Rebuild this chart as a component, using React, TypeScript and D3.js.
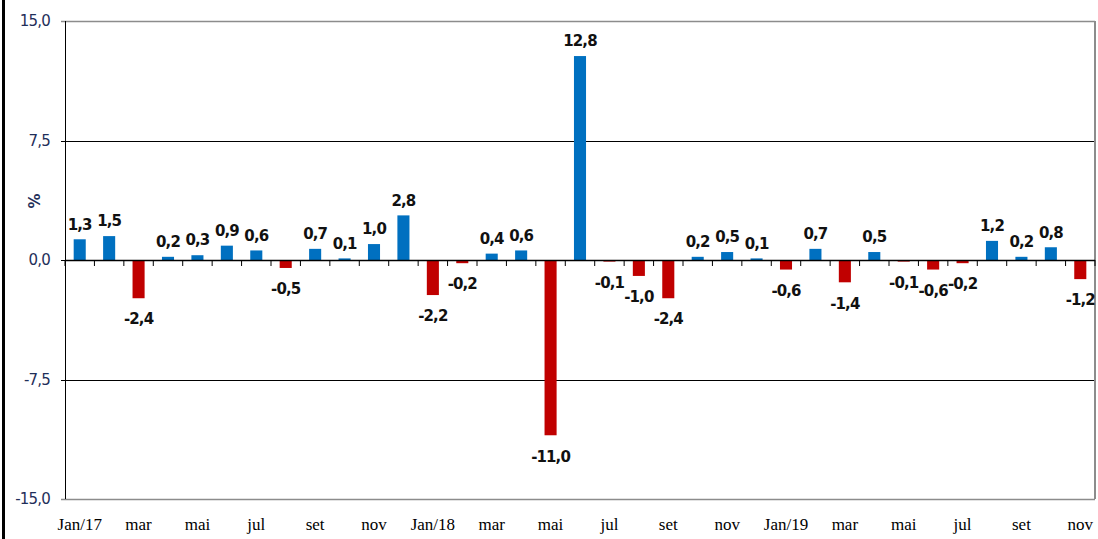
import React, { useEffect, useRef } from "react";
import * as d3 from "d3";

// variação mensal (%), jan/17 a nov/19
const months = [
  "Jan/17", "fev", "mar", "abr", "mai", "jun", "jul", "ago", "set", "out", "nov", "dez",
  "Jan/18", "fev18", "mar18", "abr18", "mai18", "jun18", "jul18", "ago18", "set18", "out18", "nov18", "dez18",
  "Jan/19", "fev19", "mar19", "abr19", "mai19", "jun19", "jul19", "ago19", "set19", "out19", "nov19",
];
const values = [
  1.3, 1.5, -2.4, 0.2, 0.3, 0.9, 0.6, -0.5, 0.7, 0.1, 1.0, 2.8,
  -2.2, -0.2, 0.4, 0.6, -11.0, 12.8, -0.1, -1.0, -2.4, 0.2, 0.5, 0.1,
  -0.6, 0.7, -1.4, 0.5, -0.1, -0.6, -0.2, 1.2, 0.2, 0.8, -1.2,
];
const tickLabels = [
  "Jan/17", "mar", "mai", "jul", "set", "nov",
  "Jan/18", "mar", "mai", "jul", "set", "nov",
  "Jan/19", "mar", "mai", "jul", "set", "nov",
];
const yTicks = [-15, -7.5, 0, 7.5, 15];

const fmt = (v: number) => v.toFixed(1).replace(".", ",");

const App = () => {
  const svgRef = useRef<SVGSVGElement | null>(null);

  useEffect(() => {
    const width = 1098;
    const height = 539;
    const left = 65;
    const right = 1095;
    const top = 21;
    const bottom = 499;

    const svg = d3.select(svgRef.current);
    svg.selectAll("*").remove();

    const x = d3.scaleBand<string>().domain(months).range([left, right]).paddingInner(0.59).paddingOuter(0.295);
    const y = d3.scaleLinear().domain([-15, 15]).range([bottom, top]);

    svg.append("rect").attr("width", width).attr("height", height).attr("fill", "#fff");
    // borda externa à esquerda
    svg.append("rect").attr("x", 2).attr("y", 0).attr("width", 3).attr("height", height).attr("fill", "#000");

    // grade
    svg
      .selectAll(".grid")
      .data(yTicks)
      .join("line")
      .attr("x1", left - 4)
      .attr("x2", right)
      .attr("y1", (d) => Math.round(y(d)) + 0.5)
      .attr("y2", (d) => Math.round(y(d)) + 0.5)
      .attr("stroke", (d) => (Math.abs(d) === 15 ? "#8c8c8c" : "#000"))
      .attr("stroke-width", (d) => (Math.abs(d) === 15 ? 1.6 : 1));

    // borda direita
    svg
      .append("line")
      .attr("x1", right).attr("x2", right)
      .attr("y1", top).attr("y2", bottom)
      .attr("stroke", "#8c8c8c").attr("stroke-width", 2);

    // eixo y
    svg
      .append("line")
      .attr("x1", left + 0.5).attr("x2", left + 0.5)
      .attr("y1", top).attr("y2", bottom)
      .attr("stroke", "#000");

    svg
      .selectAll(".ylab")
      .data(yTicks)
      .join("text")
      .attr("x", 50)
      .attr("y", (d) => y(d))
      .attr("dy", "0.35em")
      .attr("text-anchor", "end")
      .attr("font-family", "DejaVu Sans, sans-serif")
      .attr("font-size", 15)
      .attr("letter-spacing", -0.8)
      .attr("fill", "#1f2f5a")
      .text((d) => fmt(d));

    svg
      .append("text")
      .attr("transform", "translate(40,201) rotate(-90)")
      .attr("text-anchor", "middle")
      .attr("font-family", "DejaVu Sans, sans-serif")
      .attr("font-size", 15)
      .attr("font-weight", "bold")
      .attr("fill", "#1f2f5a")
      .text("%");

    // barras
    svg
      .selectAll(".bar")
      .data(values)
      .join("rect")
      .attr("x", (d, i) => x(months[i])!)
      .attr("width", x.bandwidth())
      .attr("y", (d) => y(Math.max(0, d)))
      .attr("height", (d) => Math.abs(y(d) - y(0)))
      .attr("fill", (d) => (d >= 0 ? "#0070c0" : "#c00000"));

    // linha do zero e marcas
    svg
      .append("line")
      .attr("x1", left).attr("x2", right)
      .attr("y1", y(0) + 0.5).attr("y2", y(0) + 0.5)
      .attr("stroke", "#000").attr("stroke-width", 1.3);

    const step = x.step();
    svg
      .selectAll(".xtick")
      .data(d3.range(months.length + 1))
      .join("line")
      .attr("x1", (i) => left + i * step)
      .attr("x2", (i) => left + i * step)
      .attr("y1", y(0))
      .attr("y2", y(0) + 6)
      .attr("stroke", "#000");

    // rótulos de dados
    svg
      .selectAll(".dlab")
      .data(values)
      .join("text")
      .attr("x", (d, i) => x(months[i])! + x.bandwidth() / 2)
      .attr("y", (d) => (d >= 0 ? y(d) - 15 : y(d) + 21))
      .attr("dy", "0.35em")
      .attr("text-anchor", "middle")
      .attr("font-family", "DejaVu Sans, sans-serif")
      .attr("font-weight", "bold")
      .attr("font-size", 15)
      .attr("letter-spacing", -0.9)
      .attr("fill", "#111")
      .text((d) => fmt(d));

    // rótulos do eixo x (a cada dois meses)
    svg
      .selectAll(".xlab")
      .data(tickLabels)
      .join("text")
      .attr("x", (d, i) => x(months[i * 2])! + x.bandwidth() / 2)
      .attr("y", 524)
      .attr("dy", "0.35em")
      .attr("text-anchor", "middle")
      .attr("font-family", "Liberation Serif, serif")
      .attr("font-size", 17)
      .attr("fill", "#000")
      .text((d) => d);
  }, []);

  return (
    <svg
      ref={svgRef}
      width={1098}
      height={539}
      style={{ position: "absolute", left: 0, top: 0 }}
    ></svg>
  );
};

export default App;
